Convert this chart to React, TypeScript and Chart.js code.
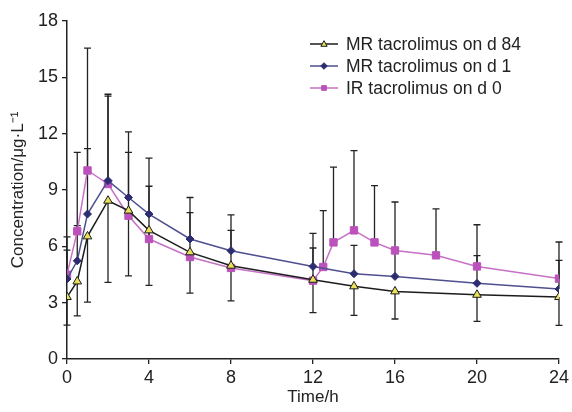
import React, { useEffect, useRef } from "react";
import { Chart, registerables } from "chart.js";

Chart.register(...registerables);

const FONT = "'Liberation Sans', Arial, Helvetica, sans-serif";

// Sampling times (h)
const mrTimes = [0, 0.5, 1, 2, 3, 4, 6, 8, 12, 14, 16, 20, 24];
const irTimes = [0, 0.5, 1, 2, 3, 4, 6, 8, 12, 12.5, 13, 14, 15, 16, 18, 20, 24];

// Mean concentrations (µg/L)
const mrDay84 = [3.3, 4.13, 6.53, 8.43, 7.9, 6.85, 5.68, 4.97, 4.22, 3.87, 3.6, 3.42, 3.3];
const mrDay1 = [4.26, 5.23, 7.72, 9.5, 8.6, 7.72, 6.39, 5.77, 4.93, 4.54, 4.4, 4.03, 3.73];
const irDay0 = [4.49, 6.8, 10.04, 9.32, 7.63, 6.39, 5.43, 4.85, 4.17, 4.9, 6.21, 6.85, 6.21, 5.78, 5.52, 4.93, 4.28];

// Error-bar ends (mean - SD for d 84, mean + SD for the others)
const mrDay84Lower = [1.8, 2.3, 3.03, 4.08, 4.43, 3.92, 3.51, 3.1, 2.47, 2.32, 2.13, 2.0, 1.79];
const mrDay1Upper = [5.8, 7.1, 11.2, 14.1, 12.1, 10.7, 8.6, 7.68, 6.69, 6.05, 5.87, 5.5, 5.25];
const irDay0Upper = [6.5, 11.0, 16.56, 14.0, 11.0, 9.2, 7.8, 6.85, 5.91, 7.9, 10.22, 11.1, 9.23, 8.36, 7.99, 7.15, 6.23];

const labels = ["MR tacrolimus on d 84", "MR tacrolimus on d 1", "IR tacrolimus on d 0"];

const yTicks = [0, 3, 6, 9, 12, 15, 18];
const xTicks = [0, 4, 8, 12, 16, 20, 24];

const toPoints = (xs: number[], ys: number[]) => xs.map((x, i) => ({ x, y: ys[i] }));

function drawMarker(ctx: CanvasRenderingContext2D, style: string, x: number, y: number, r: number, fill: string, stroke: string) {
  ctx.save();
  ctx.beginPath();
  if (style === "triangle") {
    ctx.moveTo(x, y - r);
    ctx.lineTo(x + r * 0.95, y + r * 0.7);
    ctx.lineTo(x - r * 0.95, y + r * 0.7);
    ctx.closePath();
  } else if (style === "rectRot") {
    ctx.moveTo(x, y - r);
    ctx.lineTo(x + r, y);
    ctx.lineTo(x, y + r);
    ctx.lineTo(x - r, y);
    ctx.closePath();
  } else {
    ctx.rect(x - r * 0.72, y - r * 0.72, r * 1.44, r * 1.44);
  }
  ctx.fillStyle = fill;
  ctx.fill();
  ctx.strokeStyle = stroke;
  ctx.lineWidth = 1;
  ctx.stroke();
  ctx.restore();
}

export default function App() {
  const ref = useRef<HTMLCanvasElement>(null);

  useEffect(() => {
    document.body.style.margin = "0";
    const canvas = ref.current;
    if (!canvas) return;

    const errorBars = {
      id: "errorBars",
      beforeDatasetsDraw(chart: any) {
        const { ctx, scales } = chart;
        ctx.save();
        ctx.strokeStyle = "#222";
        ctx.lineWidth = 1.3;
        chart.data.datasets.forEach((ds: any, i: number) => {
          const meta = chart.getDatasetMeta(i);
          const ends: number[] = ds.errorEnds || [];
          meta.data.forEach((pt: any, j: number) => {
            const v = ends[j];
            if (v == null) return;
            const yb = scales.y.getPixelForValue(v);
            ctx.beginPath();
            ctx.moveTo(pt.x, pt.y);
            ctx.lineTo(pt.x, yb);
            ctx.moveTo(pt.x - 3.5, yb);
            ctx.lineTo(pt.x + 3.5, yb);
            ctx.stroke();
          });
        });
        ctx.restore();
      },
    };

    const customLegend = {
      id: "customLegend",
      afterDatasetsDraw(chart: any) {
        const { ctx } = chart;
        ctx.save();
        chart.data.datasets.forEach((ds: any, i: number) => {
          const y = 44 + i * 22;
          const x0 = 310;
          const x1 = 338;
          ctx.beginPath();
          ctx.strokeStyle = ds.borderColor;
          ctx.lineWidth = 1.5;
          ctx.moveTo(x0, y);
          ctx.lineTo(x1, y);
          ctx.stroke();
          drawMarker(ctx, ds.pointStyle, (x0 + x1) / 2, y, 3.3, ds.pointBackgroundColor, ds.pointBorderColor);
          ctx.fillStyle = "#222";
          ctx.font = `17.5px ${FONT}`;
          ctx.textBaseline = "middle";
          ctx.textAlign = "left";
          ctx.fillText(ds.label, 346, y + 1);
        });
        ctx.restore();
      },
    };

    const chart = new Chart(canvas, {
      type: "line",
      data: {
        datasets: [
          {
            label: labels[0],
            data: toPoints(mrTimes, mrDay84),
            errorEnds: mrDay84Lower,
            borderColor: "#1c1c1c",
            borderWidth: 1.5,
            pointStyle: "triangle",
            pointRadius: 5,
            pointBackgroundColor: "#ebe05a",
            pointBorderColor: "#1c1c1c",
            pointBorderWidth: 1,
            tension: 0,
          } as any,
          {
            label: labels[1],
            data: toPoints(mrTimes, mrDay1),
            errorEnds: mrDay1Upper,
            borderColor: "#4e4f8e",
            borderWidth: 1.5,
            pointStyle: "rectRot",
            pointRadius: 4,
            pointBackgroundColor: "#2b2d70",
            pointBorderColor: "#2b2d70",
            pointBorderWidth: 1,
            tension: 0,
          } as any,
          {
            label: labels[2],
            data: toPoints(irTimes, irDay0),
            errorEnds: irDay0Upper,
            borderColor: "#c670c6",
            borderWidth: 1.5,
            pointStyle: "rect",
            pointRadius: 5.2,
            pointBackgroundColor: "#bb52bb",
            pointBorderColor: "#bb52bb",
            pointBorderWidth: 1,
            tension: 0,
          } as any,
        ],
      },
      options: {
        responsive: false,
        animation: false,
        layout: { padding: { top: 21, right: 13, left: 0, bottom: 0 } },
        plugins: {
          legend: { display: false },
          tooltip: { enabled: false },
        },
        scales: {
          x: {
            type: "linear",
            min: 0,
            max: 24,
            afterBuildTicks: (s: any) => {
              s.ticks = xTicks.map((v) => ({ value: v }));
            },
            afterFit: (s: any) => {
              s.height = 53;
            },
            ticks: {
              color: "#222",
              font: { family: FONT, size: 18 },
              padding: 3,
              maxRotation: 0,
            },
            grid: { drawOnChartArea: false, drawTicks: true, tickLength: 5, color: "#222", lineWidth: 1.3 },
            border: { color: "#222", width: 1.5 },
            title: {
              display: true,
              text: "Time/h",
              color: "#222",
              font: { family: FONT, size: 17 },
              padding: { top: 0, bottom: 4 },
            },
          },
          y: {
            type: "linear",
            min: 0,
            max: 18,
            afterBuildTicks: (s: any) => {
              s.ticks = yTicks.map((v) => ({ value: v }));
            },
            afterFit: (s: any) => {
              s.width = 67;
            },
            ticks: {
              color: "#222",
              font: { family: FONT, size: 18 },
              padding: 4,
            },
            grid: { drawOnChartArea: false, drawTicks: true, tickLength: 5, color: "#222", lineWidth: 1.3 },
            border: { color: "#222", width: 1.5 },
            title: {
              display: true,
              text: "Concentration/μg·L⁻¹",
              color: "#222",
              font: { family: FONT, size: 17 },
              padding: { top: 8, bottom: 0 },
            },
          },
        },
      },
      plugins: [errorBars, customLegend],
    } as any);

    return () => chart.destroy();
  }, []);

  return (
    <div style={{ width: 572, height: 412 }}>
      <canvas ref={ref} width={572} height={412} style={{ display: "block" }} />
    </div>
  );
}
